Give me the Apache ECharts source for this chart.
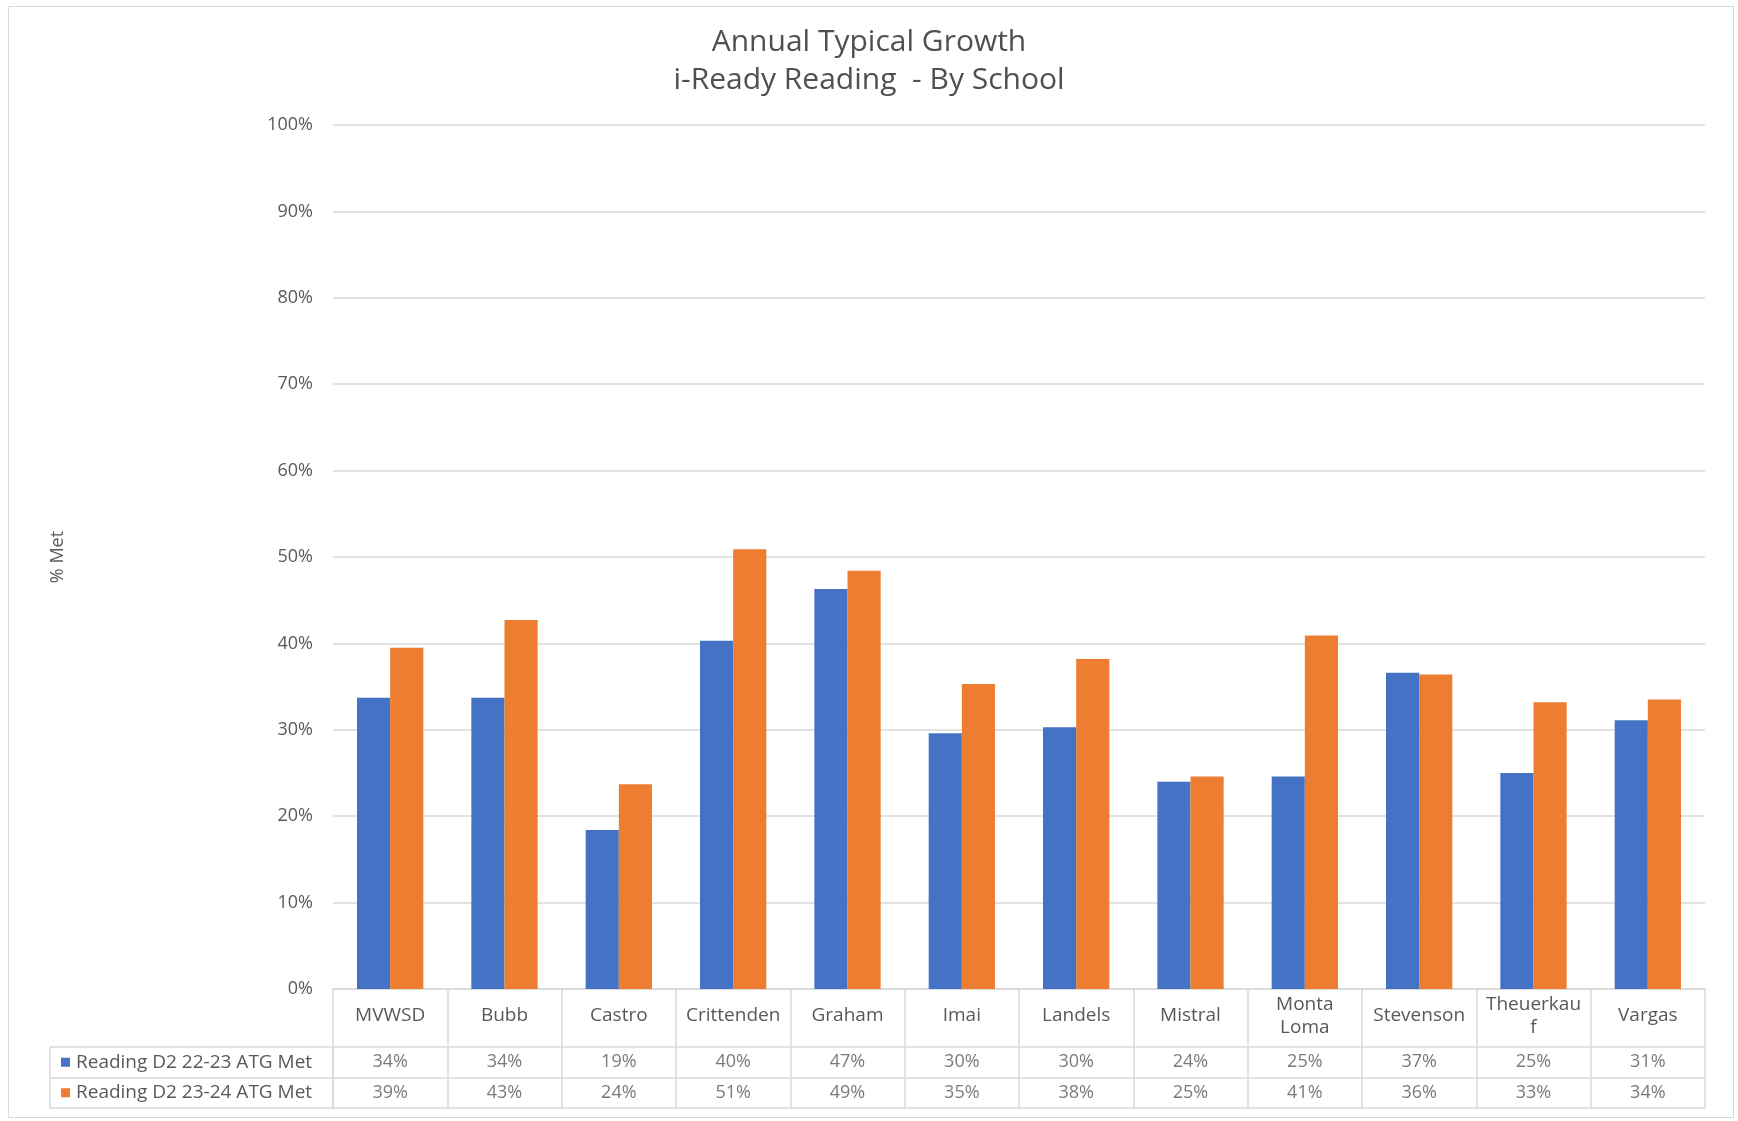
<!DOCTYPE html>
<html>
<head>
<meta charset="utf-8">
<script src="https://cdn.jsdelivr.net/npm/echarts@6/dist/echarts.min.js"></script>
<style>
  html, body { margin: 0; padding: 0; background: #ffffff; }
  #chart { position: absolute; left: 0; top: 0; width: 1738px; height: 1121px; }
  #frame { position: absolute; left: 8px; top: 6px; width: 1724px; height: 1110px; border: 1px solid #d9d9d9; pointer-events: none; }
</style>
</head>
<body>
<div id="chart"></div>
<div id="frame"></div>
<script>
// ---- data ----
const categories = ['MVWSD', 'Bubb', 'Castro', 'Crittenden', 'Graham', 'Imai', 'Landels', 'Mistral', 'Monta\nLoma', 'Stevenson', 'Theuerkau\nf', 'Vargas'];
const seriesNames = ['Reading D2 22-23 ATG Met', 'Reading D2 23-24 ATG Met'];
const values2223 = [33.7, 33.7, 18.4, 40.3, 46.3, 29.6, 30.3, 24.0, 24.6, 36.6, 25.0, 31.1];
const values2324 = [39.5, 42.7, 23.7, 50.9, 48.4, 35.3, 38.2, 24.6, 40.9, 36.4, 33.2, 33.5];
const table2223 = ['34%', '34%', '19%', '40%', '47%', '30%', '30%', '24%', '25%', '37%', '25%', '31%'];
const table2324 = ['39%', '43%', '24%', '51%', '49%', '35%', '38%', '25%', '41%', '36%', '33%', '34%'];
const yTicks = [0, 10, 20, 30, 40, 50, 60, 70, 80, 90, 100];
const colors = ['#4472C4', '#ED7D31'];

const FONT = '"Open Sans", "Noto Sans", sans-serif';
const TXT = '#595959';
const LINE = '#d9d9d9';

const chart = echarts.init(document.getElementById('chart'));

const tableRows = [table2223, table2324];
const cellSeries = tableRows.map((row, r) => ({
  type: 'scatter',
  xAxisIndex: 1,
  yAxisIndex: 1,
  symbolSize: 0.1,
  itemStyle: { color: 'transparent' },
  silent: true,
  data: categories.map((c, i) => [c, seriesNames[r], row[i]]),
  label: {
    show: true,
    position: 'inside',
    formatter: p => p.value[2],
    color: TXT,
    fontSize: 18,
    fontFamily: FONT
  }
}));

const option = {
  backgroundColor: '#ffffff',
  animation: false,
  title: {
    text: 'Annual Typical Growth\ni-Ready Reading  - By School',
    left: 'center',
    top: 18,
    textStyle: { color: '#505050', fontSize: 30, fontWeight: 'normal', fontFamily: FONT, lineHeight: 38 }
  },
  grid: [
    { left: 333, right: 33, top: 125, bottom: 132 },
    { left: 333, right: 33, top: 1047, bottom: 13 }
  ],
  xAxis: [
    {
      type: 'category',
      gridIndex: 0,
      data: categories,
      axisLine: { show: true, lineStyle: { color: LINE, width: 1.5 } },
      axisTick: { show: true, alignWithLabel: false, length: 58, lineStyle: { color: LINE, width: 1.5 } },
      axisLabel: { interval: 0, margin: 27, verticalAlign: 'middle', color: TXT, fontSize: 19, lineHeight: 23, fontFamily: FONT }
    },
    {
      type: 'category',
      gridIndex: 1,
      data: categories,
      axisLine: { show: false },
      axisTick: { show: false },
      axisLabel: { show: false },
      splitLine: { show: true, lineStyle: { color: LINE, width: 1.5 } }
    }
  ],
  yAxis: [
    {
      type: 'value',
      gridIndex: 0,
      min: yTicks[0],
      max: yTicks[yTicks.length - 1],
      interval: 10,
      name: '% Met',
      nameLocation: 'middle',
      nameRotate: 90,
      nameGap: 266,
      nameTextStyle: { color: TXT, fontSize: 18, fontFamily: FONT },
      axisLine: { show: false },
      axisTick: { show: false },
      axisLabel: { formatter: '{value}%', color: TXT, fontSize: 18, margin: 20, fontFamily: FONT },
      splitLine: { show: true, lineStyle: { color: LINE, width: 1.5 } }
    },
    {
      type: 'category',
      gridIndex: 1,
      inverse: true,
      position: 'left',
      data: seriesNames,
      axisLine: { show: true, lineStyle: { color: LINE, width: 1.5 } },
      axisTick: { show: true, alignWithLabel: false, length: 283, lineStyle: { color: LINE, width: 1.5 } },
      splitLine: { show: true, lineStyle: { color: LINE, width: 1.5 } },
      axisLabel: {
        align: 'left',
        margin: 272,
        formatter: (v, i) => '{b' + i + '|}{t|' + v + '}',
        rich: {
          b0: { width: 9, height: 9, backgroundColor: colors[0] },
          b1: { width: 9, height: 9, backgroundColor: colors[1] },
          t: { color: TXT, fontSize: 19, fontFamily: FONT, padding: [0, 0, 0, 6] }
        }
      }
    },
    {
      type: 'category',
      gridIndex: 1,
      position: 'left',
      offset: 283,
      data: seriesNames,
      axisLine: { show: true, lineStyle: { color: LINE, width: 1.5 } },
      axisTick: { show: false },
      axisLabel: { show: false },
      splitLine: { show: false }
    }
  ],
  series: [
    {
      name: seriesNames[0],
      type: 'bar',
      xAxisIndex: 0,
      yAxisIndex: 0,
      data: values2223,
      itemStyle: { color: colors[0] },
      barGap: '0%',
      barCategoryGap: '42%'
    },
    {
      name: seriesNames[1],
      type: 'bar',
      xAxisIndex: 0,
      yAxisIndex: 0,
      data: values2324,
      itemStyle: { color: colors[1] },
      barGap: '0%',
      barCategoryGap: '42%'
    }
  ].concat(cellSeries)
};

chart.setOption(option);
</script>
</body>
</html>
